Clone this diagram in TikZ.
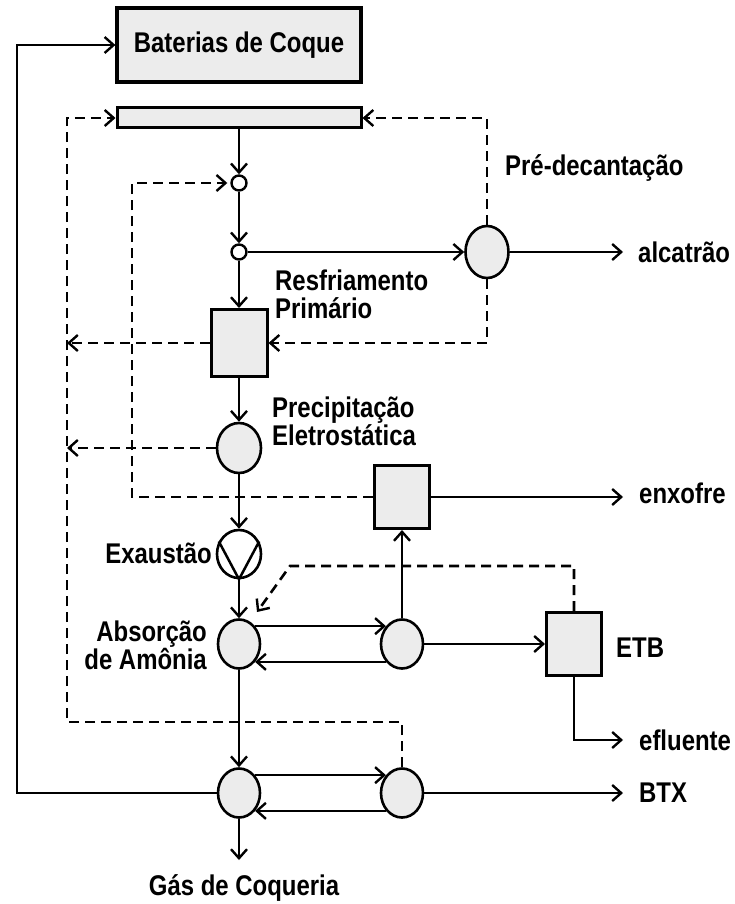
\documentclass[tikz,border=0pt]{standalone}
\usepackage{fontspec}
\setmainfont{Liberation Sans}[FakeStretch=0.84]
\usetikzlibrary{arrows.meta,shapes.geometric,calc}
\definecolor{boxgray}{HTML}{ECECEC}
\begin{document}
\begin{tikzpicture}[x=1pt,y=-1pt,
  conn/.style={line width=2.5pt},
  tip/.style={-{Straight Barb[length=9pt,width=16pt,line width=2.4pt]}},
  arr/.style={conn,tip},
  dsh/.style={line width=2.6pt,dash pattern=on 10pt off 6pt},
  darr/.style={dsh,tip},
  unitbox/.style={rectangle,draw,line width=3pt,fill=boxgray,inner sep=0pt},
  vessel/.style={ellipse,draw,line width=2.6pt,fill=boxgray,inner sep=0pt,minimum width=42pt,minimum height=49pt},
  smallc/.style={circle,draw,line width=2.4pt,fill=white,inner sep=0pt,minimum size=15pt},
  lbl/.style={font=\bfseries\fontsize{28.5}{28}\selectfont,inner sep=0pt}]
\useasboundingbox (0,0) rectangle (735,904);

% units
\node[unitbox,line width=3.2pt,minimum width=244pt,minimum height=74pt] (bat) at (239,45) {};
\node[unitbox,minimum width=244pt,minimum height=20pt] (bar) at (239,118) {};
\node[smallc] (sc1) at (239,183) {};
\node[smallc] (sc2) at (239,252) {};
\node[vessel,minimum width=43pt,minimum height=52pt] (pre) at (487,252) {};
\node[unitbox,minimum width=56pt,minimum height=67pt] (res) at (239,343) {};
\node[vessel,minimum width=44pt,minimum height=50pt] (pes) at (239,448) {};
\node[vessel,minimum width=44pt,minimum height=48pt,fill=white] (exa) at (239,554) {};
\node[vessel] (abs) at (239,644) {};
\node[vessel] (mid) at (402,644) {};
\node[unitbox,minimum width=55pt,minimum height=63pt] (enx) at (402,497) {};
\node[unitbox,minimum width=55pt,minimum height=63pt] (etb) at (574,644) {};
\node[vessel] (bl) at (239,793) {};
\node[vessel] (br) at (402,793) {};

% exhauster symbol
\draw[conn] (exa.148) -- (exa.south) -- (exa.32);

% labels
\node[lbl] (tbat) at (bat) {Baterias de Coque};
\node[lbl,anchor=west] (tpre) at (505,168) {Pré-decantação};
\node[lbl,anchor=west] (talc) at (638,252) {alcatrão};
\node[lbl,anchor=west,align=left] (tres) at (275,294) {Resfriamento\\Primário};
\node[lbl,anchor=west,align=left] (tpes) at (272,421) {Precipitação\\Eletrostática};
\node[lbl,anchor=east] (texa) at (212,553) {Exaustão};
\node[lbl,anchor=west] (tenx) at (639,493) {enxofre};
\node[lbl,anchor=east,align=right] (tabs) at (207,645) {Absorção\\de Amônia};
\node[lbl,anchor=west] (tetb) at (616,648) {ETB};
\node[lbl,anchor=west] (tefl) at (639,740) {efluente};
\node[lbl,anchor=west] (tbtx) at (639,793) {BTX};
\node[lbl] (tgas) at (244,888) {Gás de Coqueria};

% free ends and corners
\coordinate (ealc) at (623,252);
\coordinate (eenx) at (623,497);
\coordinate (eefl) at (623,740);
\coordinate (ebtx) at (623,793);
\coordinate (egas) at (239,860);
\coordinate (cl) at (17,793);
\coordinate (dl) at (67,722);
\coordinate (dm) at (132,497);
\coordinate (dd) at (290,566);
\coordinate (dtip) at (257,612);

% main gas line
\draw[arr] (bar.south) -- (sc1.north);
\draw[arr] (sc1.south) -- (sc2.north);
\draw[arr] (sc2.south) -- (res.north);
\draw[arr] (res.south) -- (pes.north);
\draw[arr] (pes.south) -- (exa.north);
\draw[arr] (exa.south) -- (abs.north);
\draw[arr] (abs.south) -- (bl.north);
\draw[arr] (bl.south) -- (egas);
\draw[arr] (bl.west) -- (cl) |- (bat.west);

% side streams
\draw[arr] (sc2.east) -- (pre.west);
\draw[arr] (pre.east) -- (ealc);
\draw[arr] (abs.48) -- (mid.132);
\draw[arr] (mid.-132) -- (abs.-48);
\draw[arr] (mid.north) -- (enx.south);
\draw[arr] (enx.east) -- (eenx);
\draw[arr] (mid.east) -- (etb.west);
\draw[arr] (etb.south) |- (eefl);
\draw[arr] (bl.48) -- (br.132);
\draw[arr] (br.-132) -- (bl.-48);
\draw[arr] (br.east) -- (ebtx);

% dashed recycle lines
\draw[darr] (pre.north) |- (bar.east);
\draw[darr] (pre.south) |- (res.east);
\draw[darr] (br.north) |- (dl) |- (bar.west);
\draw[darr] (res.west) -- (res.west -| dl);
\draw[darr] (pes.west) -- (pes.west -| dl);
\draw[darr,shorten >=3pt] (enx.west) -- (enx.west -| dm) |- (sc1.west);
\draw[darr] (etb.north) |- (dd) -- (dtip);
\end{tikzpicture}
\end{document}
